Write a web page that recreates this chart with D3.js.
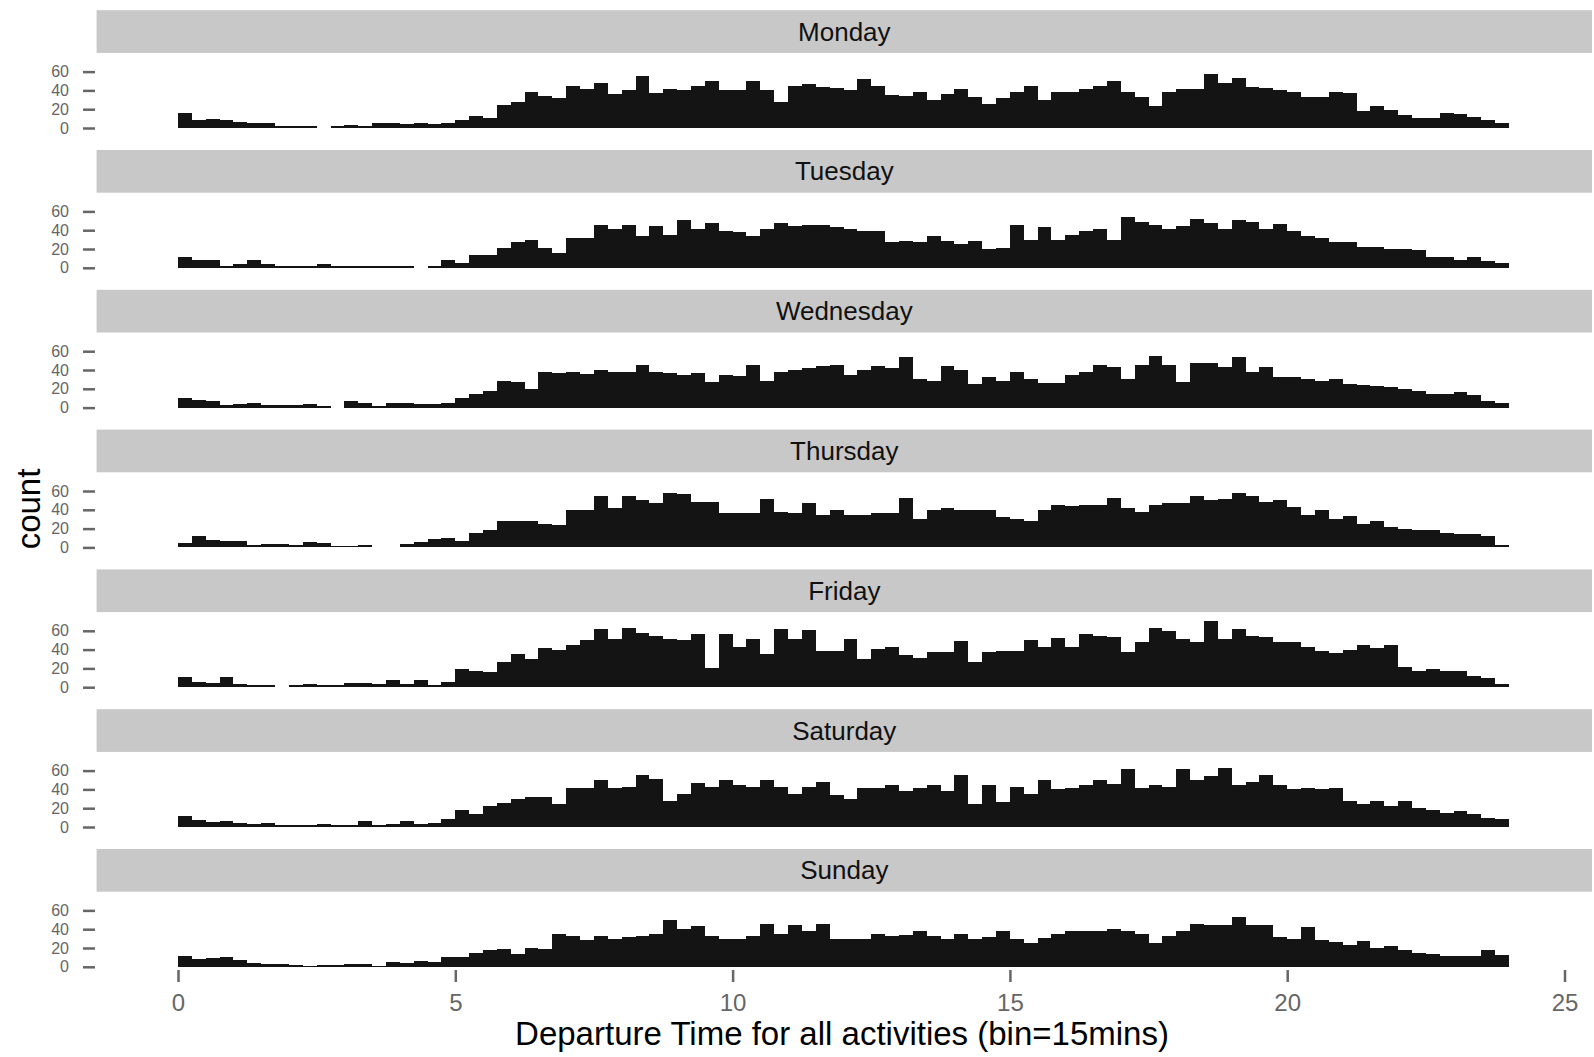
<!DOCTYPE html>
<html>
<head>
<meta charset="utf-8">
<script src="https://cdn.jsdelivr.net/npm/d3@7/dist/d3.min.js"></script>
<style>
  body { margin: 0; background: #fff; }
  svg { display: block; font-family: "Liberation Sans", Arial, Helvetica, sans-serif; }
</style>
</head>
<body>
<div id="chart"></div>
<script>
// 分面名称
const days = ["Monday", "Tuesday", "Wednesday", "Thursday", "Friday", "Saturday", "Sunday"];

// 每个柱子 = 15 分钟
const binHours = 0.25;

// 每天 96 个区间的计数
const monday = [
  16, 8, 10, 8, 6, 5, 5, 2, 2, 2, 0, 2, 3, 2, 5, 5, 4, 5, 4, 5,
  9, 13, 11, 25, 28, 38, 34, 32, 45, 42, 48, 36, 40, 55, 37, 42,
  40, 45, 50, 40, 40, 50, 40, 28, 45, 47, 44, 43, 40, 52, 45, 35,
  34, 38, 30, 36, 42, 33, 26, 32, 38, 45, 30, 38, 38, 42, 45, 50,
  38, 33, 23, 38, 42, 42, 57, 48, 53, 44, 43, 40, 38, 33, 33, 38,
  37, 18, 23, 19, 14, 11, 11, 16, 15, 12, 9, 5
];
const tuesday = [
  11, 8, 8, 2, 4, 8, 4, 2, 2, 2, 4, 2, 2, 2, 2, 2, 2, 0, 2, 8,
  5, 14, 14, 21, 27, 30, 21, 16, 32, 32, 46, 41, 45, 34, 44, 35,
  51, 41, 48, 39, 38, 34, 41, 48, 44, 46, 45, 43, 41, 39, 39, 27,
  29, 27, 34, 28, 25, 28, 20, 21, 46, 30, 43, 30, 35, 39, 41, 30,
  54, 49, 46, 41, 44, 52, 48, 41, 51, 49, 41, 47, 39, 34, 32, 27,
  27, 22, 22, 20, 20, 19, 12, 11, 8, 11, 7, 5
];
const wednesday = [
  10, 8, 7, 3, 4, 5, 3, 3, 3, 4, 2, 0, 7, 5, 2, 5, 5, 4, 4, 5,
  10, 14, 18, 28, 27, 20, 38, 37, 38, 36, 40, 38, 38, 45, 38, 37,
  35, 37, 27, 35, 34, 45, 28, 38, 40, 42, 44, 45, 35, 40, 44, 42,
  54, 30, 28, 44, 40, 25, 33, 28, 38, 30, 26, 26, 35, 38, 45, 43,
  30, 45, 55, 45, 27, 47, 47, 43, 54, 38, 43, 33, 33, 30, 28, 30,
  25, 24, 23, 22, 20, 18, 14, 15, 17, 13, 7, 5
];
const thursday = [
  5, 12, 8, 7, 7, 3, 4, 4, 3, 6, 5, 2, 2, 3, 0, 0, 4, 6, 9, 10,
  7, 15, 18, 28, 28, 28, 25, 24, 40, 40, 55, 42, 55, 50, 47, 58,
  57, 48, 48, 37, 37, 37, 52, 38, 37, 47, 34, 40, 35, 35, 37, 37,
  53, 30, 40, 42, 40, 40, 40, 32, 30, 28, 40, 45, 44, 45, 45, 53,
  42, 38, 45, 47, 47, 55, 50, 52, 58, 55, 48, 50, 43, 35, 40, 30,
  33, 25, 28, 22, 20, 18, 18, 15, 14, 14, 12, 3
];
const friday = [
  11, 6, 5, 11, 3, 2, 2, 0, 2, 3, 2, 2, 4, 5, 3, 8, 3, 8, 2, 6,
  19, 17, 16, 27, 35, 30, 42, 40, 45, 50, 62, 51, 63, 58, 55, 51,
  50, 57, 20, 57, 43, 51, 35, 62, 51, 61, 39, 39, 51, 30, 41, 43,
  34, 31, 37, 37, 49, 27, 37, 38, 38, 50, 43, 52, 43, 57, 54, 53,
  37, 48, 63, 60, 51, 48, 70, 51, 62, 55, 53, 48, 48, 43, 38, 36,
  40, 45, 42, 45, 22, 17, 19, 17, 17, 12, 10, 3
];
const saturday = [
  12, 7, 5, 6, 4, 3, 4, 2, 2, 2, 3, 2, 2, 6, 2, 3, 6, 3, 4, 9,
  18, 14, 22, 26, 30, 32, 32, 25, 41, 41, 50, 41, 43, 55, 51, 28,
  35, 47, 43, 50, 45, 43, 50, 43, 35, 43, 48, 34, 30, 42, 42, 45,
  38, 42, 45, 38, 55, 25, 45, 27, 43, 35, 50, 40, 42, 45, 50, 46,
  62, 42, 45, 43, 62, 50, 54, 63, 45, 48, 55, 45, 40, 42, 40, 42,
  28, 25, 28, 22, 28, 20, 18, 15, 17, 14, 10, 8
];
const sunday = [
  12, 8, 9, 10, 7, 4, 3, 3, 2, 1, 2, 2, 3, 3, 1, 5, 4, 6, 5, 10,
  10, 15, 18, 19, 14, 20, 19, 35, 33, 28, 33, 30, 32, 33, 35, 50,
  40, 43, 33, 30, 30, 33, 45, 35, 44, 38, 46, 30, 30, 30, 35, 33,
  34, 38, 33, 30, 35, 30, 32, 38, 30, 25, 31, 35, 38, 38, 38, 40,
  38, 35, 25, 33, 38, 45, 44, 44, 53, 44, 44, 32, 30, 42, 28, 26,
  23, 27, 20, 22, 18, 15, 14, 11, 12, 11, 18, 13
];
const dayCounts = [monday, tuesday, wednesday, thursday, friday, saturday, sunday];

// 坐标轴刻度与标题
const xTicks = [0, 5, 10, 15, 20, 25];
const yTicks = [0, 20, 40, 60];
const xTitle = "Departure Time for all activities (bin=15mins)";
const yTitle = "count";

// 画布与分面布局
const width = 1594, height = 1057;
const facetStep = 139.8;
const stripTop = 10.2, stripHeight = 42.7;
const panelLeft = 96.6, panelRight = 1592;
const baseline0 = 128;
const xAxisY = 970;

const x = d3.scaleLinear().domain([0, 25]).range([178, 1564.5]);
// y 相对于每个分面的基线
const y = d3.scaleLinear().domain([0, 60]).range([0, -56.4]);

const svg = d3.select("#chart")
    .append("svg")
    .attr("width", width)
    .attr("height", height);

svg.append("rect").attr("width", width).attr("height", height).attr("fill", "#fff");

days.forEach((day, i) => {
    const g = svg.append("g").attr("transform", `translate(0,${i * facetStep})`);

    // 分面标签条
    g.append("rect")
        .attr("x", panelLeft)
        .attr("y", stripTop)
        .attr("width", panelRight - panelLeft)
        .attr("height", stripHeight)
        .attr("fill", "#c8c8c8");

    g.append("text")
        .attr("x", (panelLeft + panelRight) / 2)
        .attr("y", stripTop + stripHeight / 2)
        .attr("text-anchor", "middle")
        .attr("dominant-baseline", "central")
        .attr("font-size", 26)
        .attr("fill", "#111")
        .text(day);

    const panel = g.append("g").attr("transform", `translate(0,${baseline0})`);

    // 直方图柱子
    panel.append("g")
        .attr("shape-rendering", "crispEdges")
        .selectAll("rect")
        .data(dayCounts[i])
        .join("rect")
        .attr("x", (d, j) => x(j * binHours))
        .attr("width", (d, j) => x((j + 1) * binHours) - x(j * binHours))
        .attr("y", d => y(d))
        .attr("height", d => y(0) - y(d))
        .attr("fill", "#141414");

    // y 轴（刻度标签缩小一点，避免互相重叠）
    panel.append("g")
        .attr("transform", "translate(95,0)")
        .call(d3.axisLeft(y).tickValues(yTicks).tickSize(12).tickPadding(14))
        .call(a => a.select(".domain").remove())
        .call(a => a.selectAll(".tick line").attr("stroke", "#666").attr("stroke-width", 2.5))
        .call(a => a.selectAll(".tick text")
            .attr("fill", "#666")
            .attr("font-size", 16)
            .attr("font-family", "'Liberation Sans', Arial, sans-serif"));
});

// x 轴
svg.append("g")
    .attr("transform", `translate(0,${xAxisY})`)
    .call(d3.axisBottom(x).tickValues(xTicks).tickSize(12).tickPadding(12))
    .call(a => a.select(".domain").remove())
    .call(a => a.selectAll(".tick line").attr("stroke", "#666").attr("stroke-width", 2.5))
    .call(a => a.selectAll(".tick text")
        .attr("fill", "#666")
        .attr("font-size", 24)
        .attr("font-family", "'Liberation Sans', Arial, sans-serif"));

// 轴标题
svg.append("text")
    .attr("x", 842)
    .attr("y", 1045)
    .attr("text-anchor", "middle")
    .attr("font-size", 33)
    .attr("fill", "#000")
    .text(xTitle);

svg.append("text")
    .attr("transform", "translate(40,509) rotate(-90)")
    .attr("text-anchor", "middle")
    .attr("font-size", 33)
    .attr("fill", "#000")
    .text(yTitle);
</script>
</body>
</html>
